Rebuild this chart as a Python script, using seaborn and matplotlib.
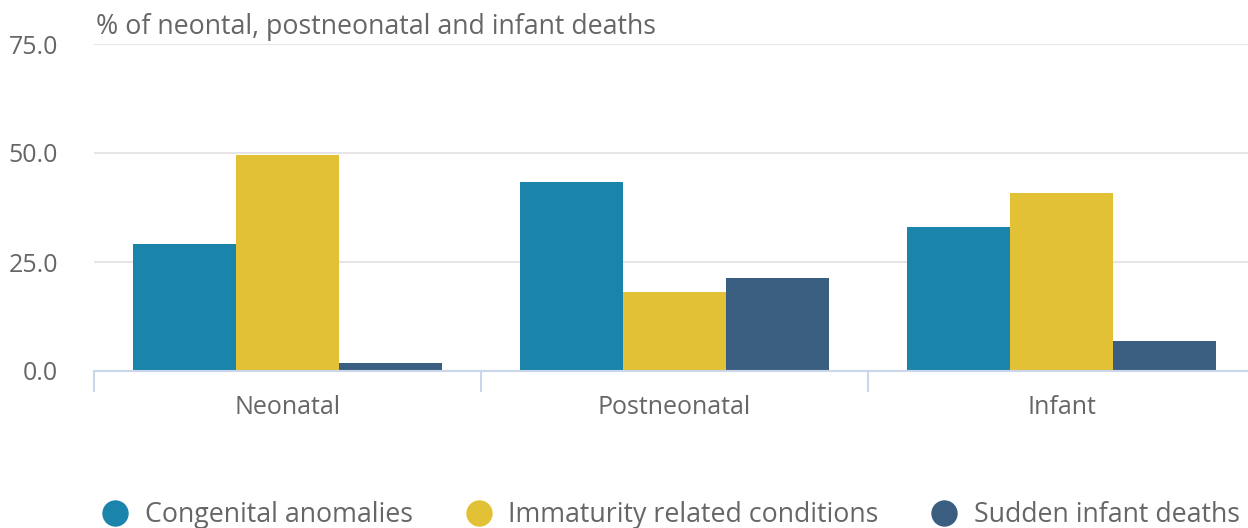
import matplotlib
matplotlib.use('Agg')
import matplotlib.pyplot as plt
from matplotlib.lines import Line2D
import seaborn as sns
import pandas as pd

# ── data ────────────────────────────────────────────────────────────────
categories = ['Neonatal', 'Postneonatal', 'Infant']
series = ['Congenital anomalies', 'Immaturity related conditions', 'Sudden infant deaths']
congenital = [29.1, 43.3, 33.0]
immaturity = [49.5, 18.1, 40.8]
sudden = [1.8, 21.3, 6.9]
colors = ['#1a84ab', '#e3c137', '#3a5e7f']
y_ticks = [0, 25, 50, 75]

df = pd.DataFrame({
    'category': categories * 3,
    'series': [s for s in series for _ in categories],
    'value': congenital + immaturity + sudden,
})

sns.set_theme(style='white')
plt.rcParams['font.family'] = ['Open Sans', 'DejaVu Sans']

fig = plt.figure(figsize=(12.48, 5.28), dpi=100)
ax = fig.add_axes([94 / 1248, 1 - 371 / 528, 1161 / 1248, 327 / 528])

sns.barplot(data=df, x='category', y='value', hue='series', order=categories,
            hue_order=series, palette=colors, width=0.8, saturation=1,
            ax=ax, legend=False, edgecolor='none', linewidth=0)

ax.set_xlim(-0.5, 2.5)
ax.set_ylim(0, 75)
ax.set_yticks(y_ticks)
ax.set_yticklabels([f'{v:.1f}' for v in y_ticks])
ax.yaxis.grid(True, color='#e6e6e6', lw=1.5)
ax.set_axisbelow(True)
for s in ['top', 'right', 'left']:
    ax.spines[s].set_visible(False)
ax.spines['bottom'].set_color('#ccd6eb')
ax.spines['bottom'].set_linewidth(1.5)

ax.tick_params(axis='y', length=0, pad=26, labelsize=18, labelcolor='#666666')
ax.tick_params(axis='x', which='major', length=0, pad=17, labelsize=18, labelcolor='#666666')
ax.set_xticks([-0.5, 0.5, 1.5, 2.5], minor=True)
ax.tick_params(axis='x', which='minor', bottom=True, length=15, width=1.5,
               color='#ccd6eb', direction='out')
ax.set_xlabel('')
ax.set_ylabel('')

fig.text(96 / 1248, 1 - 27 / 528, '% of neontal, postneonatal and infant deaths',
         ha='left', va='center', fontsize=19.3, color='#666666')

handles = [Line2D([0], [0], marker='o', ls='none', markersize=19,
                  markerfacecolor=c, markeredgecolor='none') for c in colors]
fig.legend(handles, series, loc='center left',
           bbox_to_anchor=(102 / 1248, 1 - 515 / 528),
           ncol=3, frameon=False, fontsize=19.3, labelcolor='#666666',
           handletextpad=0.6, columnspacing=1.95, handlelength=1.0,
           borderpad=0, borderaxespad=0)

fig.savefig('out.png', dpi=100)
